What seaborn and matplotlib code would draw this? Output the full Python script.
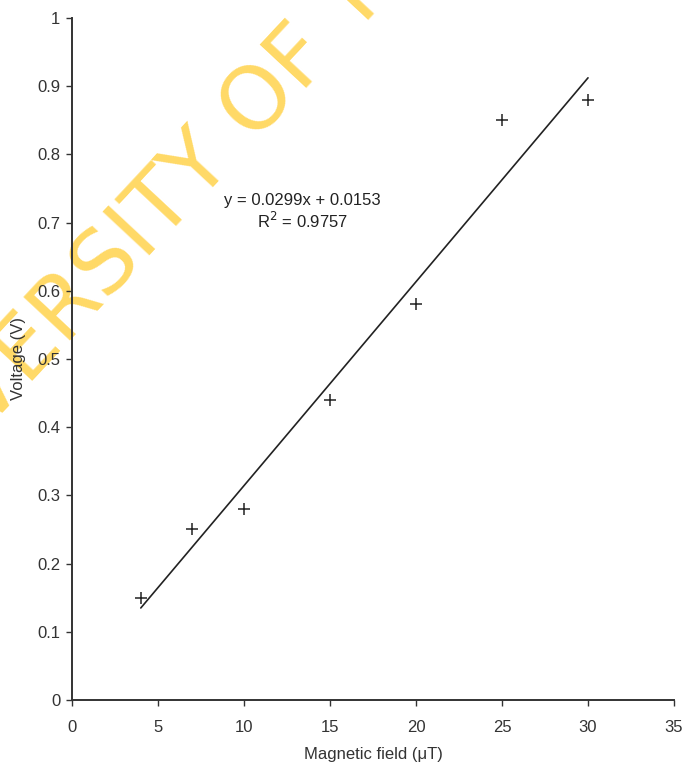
import matplotlib
matplotlib.use("Agg")
import matplotlib.pyplot as plt
import seaborn as sns
import numpy as np
import pandas as pd

# Measured induced voltage against applied magnetic field
field_uT = [4, 7, 10, 15, 20, 25, 30]
voltage_V = [0.15, 0.25, 0.28, 0.44, 0.58, 0.85, 0.88]

# Linear trendline coefficients and goodness of fit
slope = 0.0299
intercept = 0.0153
r_squared = 0.9757

x_ticks = [0, 5, 10, 15, 20, 25, 30, 35]
y_ticks = [0, 0.1, 0.2, 0.3, 0.4, 0.5, 0.6, 0.7, 0.8, 0.9, 1]
y_tick_labels = ["0", "0.1", "0.2", "0.3", "0.4", "0.5", "0.6", "0.7", "0.8", "0.9", "1"]

sns.set_theme(style="ticks")
plt.rcParams["font.family"] = ["Liberation Sans", "DejaVu Sans"]

ink = "#333333"
fig = plt.figure(figsize=(6.87, 7.67), dpi=100)
ax = fig.add_axes([0.1048, 0.0874, 0.8763, 0.8891])
ax.set_zorder(1)
ax.patch.set_alpha(0)

data = pd.DataFrame({"field": field_uT, "voltage": voltage_V})
trend = pd.DataFrame({"field": [min(field_uT), max(field_uT)]})
trend["voltage"] = slope * trend["field"] + intercept

sns.lineplot(data=trend, x="field", y="voltage", ax=ax, color="#222222", linewidth=1.2)
sns.scatterplot(data=data, x="field", y="voltage", ax=ax, marker="+", s=70,
                color="#222222", linewidth=1.1)

ax.set_xlim(0, 35)
ax.set_ylim(0, 1)
ax.set_xticks(x_ticks)
ax.set_xticklabels([str(t) for t in x_ticks])
ax.set_yticks(y_ticks)
ax.set_yticklabels(y_tick_labels)
ax.tick_params(axis="both", colors=ink, labelsize=12, length=4.3, width=1.0, direction="out", pad=4)
ax.tick_params(axis="x", pad=10)
for side in ("top", "right"):
    ax.spines[side].set_visible(False)
for side in ("left", "bottom"):
    ax.spines[side].set_color(ink)
    ax.spines[side].set_linewidth(1.4)

ax.set_xlabel("Magnetic field (\u03bcT)", fontsize=12, color=ink, labelpad=9)
ax.set_ylabel("Voltage (V)", fontsize=12, color=ink, labelpad=8)

ax.text(13.4, 0.733, f"y = {slope}x + {intercept}", ha="center", va="center",
        fontsize=12, color="#222222")
ax.text(13.4, 0.703, f"R$^2$ = {r_squared}", ha="center", va="center",
        fontsize=12, color="#222222")

# Diagonal watermark behind the plot
fig.text(0.171, 0.668, "UNIVERSITY OF T", rotation=47, rotation_mode="anchor",
         ha="center", va="center", fontsize=63, color="#FFD966", zorder=0,
         family="DejaVu Sans")

fig.savefig("out.png", dpi=100, facecolor="white")
